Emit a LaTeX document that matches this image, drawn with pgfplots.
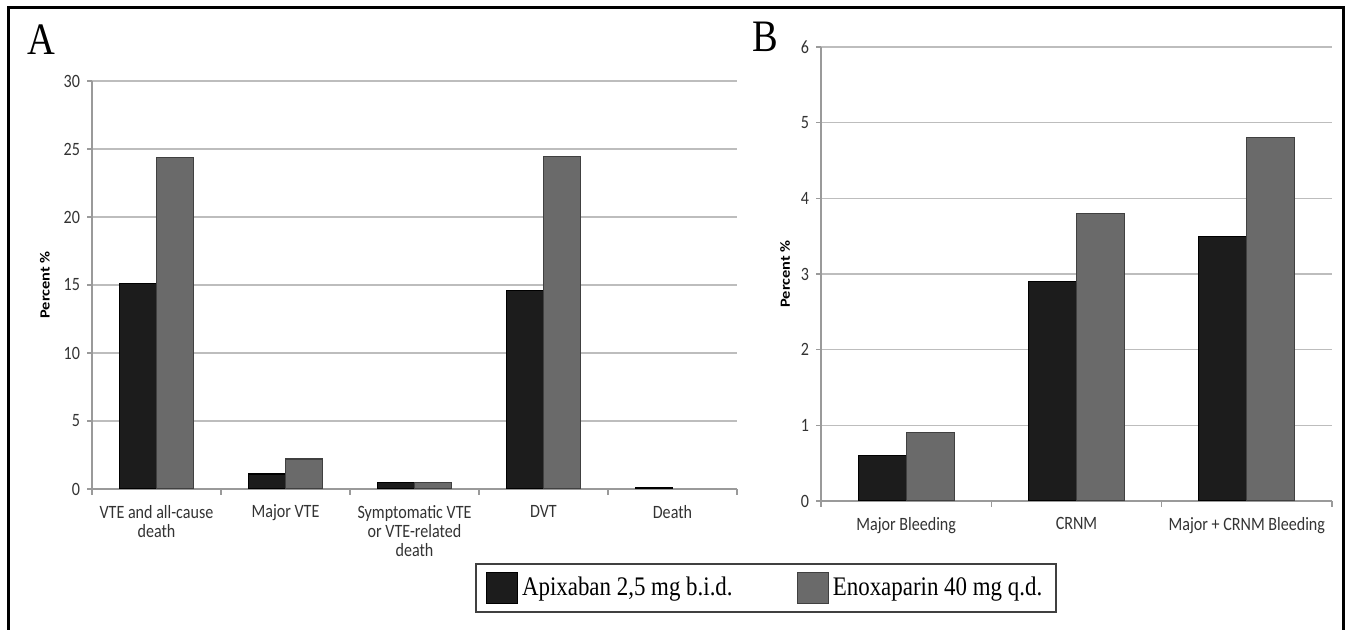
\documentclass[border=0pt]{standalone}
\usepackage{pgfplots}
\pgfplotsset{compat=1.18}
\usepackage{fontspec}
\setmainfont{Liberation Serif}[FakeStretch=0.855]
\newfontfamily\carlito{Carlito}[FakeStretch=0.855]
\newfontfamily\carlitolab{Carlito}[FakeStretch=1.17]
\definecolor{barA}{HTML}{1C1C1C}
\definecolor{barB}{HTML}{6A6A6A}
\definecolor{gridc}{HTML}{BDBDBD}
\definecolor{axisc}{HTML}{9A9A9A}
\pgfplotsset{
  panel/.style={
    scale only axis, anchor=south west,
    ybar=0pt, enlargelimits=false, ymin=0,
    axis x line=bottom, axis y line=left,
    axis line style={-, draw=axisc, line width=0.8pt},
    ymajorgrids, grid style={gridc, line width=0.8pt},
    tick align=outside,
    major tick length=2.5pt, minor tick length=3pt,
    major x tick style={draw=none},
    minor x tick style={draw=axisc, line width=0.8pt},
    ytick style={draw=axisc, line width=0.8pt},
    ticklabel style={font=\carlito\fontsize{9.4}{9.5}\selectfont, text=black!80},
    /pgf/number format/assume math mode=true,
    xticklabel style={align=center, anchor=north, yshift=-2pt},
    ylabel={Percent \%},
  },
  barsA/.style={fill=barA, draw=black, line width=0.6pt,
    legend image code/.code={\draw[fill=barA, draw=black, line width=0.6pt] (0pt,-7.75pt) rectangle (15.5pt,7.75pt);}},
  barsB/.style={fill=barB, draw=black!75, line width=0.6pt,
    legend image code/.code={\draw[fill=barB, draw=black!75, line width=0.6pt] (0pt,-7.75pt) rectangle (15.5pt,7.75pt);}},
}
\begin{document}
\begin{tikzpicture}
\useasboundingbox (0,0) rectangle (675pt,315pt);
\fill[white] (0,0) rectangle (675pt,315pt);
\begin{axis}[panel, at={(46pt,70.5pt)}, width=322.5pt, height=204pt,
  xmin=-0.5, xmax=4.5, ymax=30, ytick={0,5,...,30},
  xtick={0,1,2,3,4},
  xticklabels={{VTE and all-cause\\death},{Major VTE},{Symptomatic VTE\\or VTE-related\\death},{DVT},{Death}},
  minor xtick={-0.5,0.5,1.5,2.5,3.5,4.5},
  bar width=18.5pt,
  every axis y label/.style={at={(axis description cs:-0.0729,0.5)}, rotate=90, anchor=center, font=\carlitolab\bfseries\fontsize{7}{9}\selectfont},
  legend columns=2,
  legend style={at={(1.045,-0.2426)}, anchor=center, draw=black!75, line width=0.8pt,
    font=\fontsize{13.4}{15}\selectfont, inner xsep=5pt, inner ysep=4pt,
    /tikz/every even column/.append style={column sep=30pt}},
]
\addplot[barsA] coordinates {(0,15.1) (1,1.1) (2,0.45) (3,14.6) (4,0.12)};
\addlegendentry{Apixaban 2,5 mg b.i.d.}
\addplot[barsB] coordinates {(0,24.4) (1,2.2) (2,0.46) (3,24.45)};
\addlegendentry{Enoxaparin 40 mg q.d.}
\end{axis}
\begin{axis}[panel, at={(410.5pt,64.5pt)}, width=255.5pt, height=227pt,
  xmin=-0.5, xmax=2.5, ymax=6, ytick={0,1,...,6},
  xtick={0,1,2},
  xticklabels={{Major Bleeding},{CRNM},{Major + CRNM Bleeding}},
  minor xtick={-0.5,0.5,1.5,2.5},
  bar width=24pt,
  every axis y label/.style={at={(axis description cs:-0.0705,0.5)}, rotate=90, anchor=center, font=\carlitolab\bfseries\fontsize{7}{9}\selectfont},
]
\addplot[barsA] coordinates {(0,0.6) (1,2.9) (2,3.5)};
\addplot[barsB] coordinates {(0,0.9) (1,3.8) (2,4.8)};
\end{axis}
\node[anchor=base west, font=\fontsize{22.5}{26}\selectfont, inner sep=0pt] at (13.5pt,287.5pt) {A};
\node[anchor=base west, font=\fontsize{22.5}{26}\selectfont, inner sep=0pt] at (376pt,289pt) {B};
\draw[line width=1.5pt] (4pt,-5pt) -- (4pt,311pt) -- (671.5pt,311pt) -- (671.5pt,-5pt);
\end{tikzpicture}
\end{document}
